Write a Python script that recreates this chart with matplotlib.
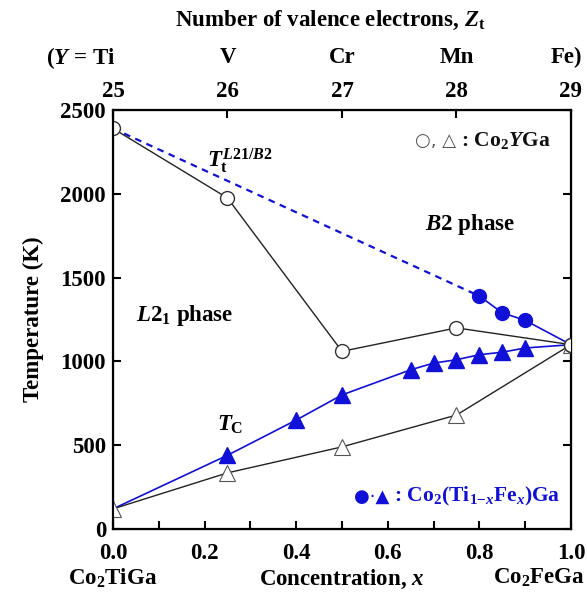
import matplotlib
matplotlib.use("Agg")
import matplotlib.pyplot as plt
import matplotlib.transforms as mtransforms
from matplotlib.offsetbox import TextArea, HPacker, AnchoredOffsetbox

plt.rcParams['font.family'] = ['Liberation Serif', 'DejaVu Serif']
plt.rcParams['font.weight'] = 'bold'
plt.rcParams['mathtext.fontset'] = 'custom'
plt.rcParams['mathtext.rm'] = 'Liberation Serif:bold'
plt.rcParams['mathtext.it'] = 'Liberation Serif:bold:italic'
plt.rcParams['mathtext.bf'] = 'Liberation Serif:bold'
plt.rcParams['mathtext.fallback'] = 'stix'

BLUE = "#1010d8"

# Co2YGa (Y = Ti, V, Cr, Mn, Fe)
x_y = [0.0, 0.25, 0.5, 0.75, 1.0]
tt_y = [2390, 1975, 1060, 1200, 1100]     # L21/B2 transition
tc_y = [120, 335, 490, 680, 1100]         # Curie temperature

# Co2(Ti1-xFex)Ga
x_tt_fe = [0.8, 0.85, 0.9, 1.0]
tt_fe = [1390, 1290, 1245, 1100]
x_tc_fe = [0.0, 0.25, 0.4, 0.5, 0.65, 0.7, 0.75, 0.8, 0.85, 0.9, 1.0]
tc_fe = [120, 440, 650, 800, 950, 990, 1010, 1040, 1055, 1080, 1100]

top_pos = [0.0, 0.25, 0.5, 0.75, 1.0]
top_nums = ["25", "26", "27", "28", "29"]
top_elems = ["($\\mathit{Y}$ = Ti", "V", "Cr", "Mn", "Fe)"]

fig = plt.figure(figsize=(5.87, 5.97), dpi=100)
ax = fig.add_axes([0.1925, 0.1139, 0.7802, 0.7018])

# dashed extrapolation of T_t from Co2TiGa to the x=0.8 point
ax.plot([x_y[0], x_tt_fe[0]], [tt_y[0], tt_fe[0]], color=BLUE, lw=1.6,
        ls=(0, (3, 2.5)), zorder=2)
ax.plot(x_tt_fe, tt_fe, color=BLUE, lw=1.2, zorder=2)
ax.plot(x_tt_fe[:-1], tt_fe[:-1], 'o', color=BLUE, ms=10, zorder=4)
ax.plot(x_tc_fe, tc_fe, color=BLUE, lw=1.2, zorder=2)
ax.plot(x_tc_fe[1:-1], tc_fe[1:-1], '^', color=BLUE, ms=11, zorder=4)

ax.plot(x_y, tt_y, color='#222222', lw=1.0, marker='o', ms=10,
        mfc='white', mec='#333333', mew=1.0, zorder=5)
ax.plot(x_y, tc_y, color='#222222', lw=1.0, marker='^', ms=11,
        mfc='white', mec='#555555', mew=0.8, zorder=3)
ax.plot([x_y[-1]], [tt_y[-1]], 'o', ms=10, mfc='white', mec='#333333',
        mew=1.0, zorder=6)

ax.set_xlim(0, 1)
ax.set_ylim(0, 2500)
ax.set_xticks([0.0, 0.1, 0.2, 0.3, 0.4, 0.5, 0.6, 0.7, 0.8, 0.9, 1.0])
ax.set_xticklabels(["0.0", "", "0.2", "", "0.4", "", "0.6", "", "0.8", "", "1.0"])
ax.set_yticks([0, 500, 1000, 1500, 2000, 2500])
ax.tick_params(direction='in', length=6, width=1.5, labelsize=16.5,
               right=True, pad=5)
ax.tick_params(axis='x', pad=10)
for s in ax.spines.values():
    s.set_linewidth(1.6)

ax.set_ylabel("Temperature (K)", fontsize=16.5, fontweight='bold', labelpad=12)
ax.set_xlabel("Concentration, $\\mathit{x}$", fontsize=16.5, fontweight='bold',
              labelpad=3)

ax2 = ax.twiny()
ax2.set_xlim(0, 1)
ax2.set_xticks(top_pos)
ax2.set_xticklabels(top_nums)
ax2.tick_params(direction='in', length=6, width=1.5, labelsize=16.5, pad=6)

trans = mtransforms.blended_transform_factory(ax.transData, ax.transAxes)
for xp, el in zip(top_pos, top_elems):
    dx = -0.07 if xp == 0.0 else (-0.01 if xp == 1.0 else 0.0)
    ax.text(xp + dx, 1.125, el, transform=trans, ha='center', va='center',
            fontsize=16.5)
fig.text(0.563, 0.966, "Number of valence electrons, $\\mathit{Z}_{\\mathrm{t}}$",
         ha='center', va='center', fontsize=16.5)

fig.text(0.192, 0.032, "Co$_2$TiGa", ha='center', va='center', fontsize=16.5)
fig.text(0.997, 0.032, "Co$_2$FeGa", ha='right', va='center', fontsize=16.5)

ax.text(0.205, 2200, "$\\mathit{T}_{\\mathrm{t}}^{\\mathit{L}2\\mathrm{1}/\\mathit{B}2}$",
        fontsize=16.5, ha='left', va='center')
ax.text(0.78, 1815, "$\\mathit{B}$2 phase", fontsize=16.5, ha='center', va='center')
ax.text(0.157, 1275, "$\\mathit{L}$2$_1$ phase", fontsize=16.5, ha='center', va='center')
ax.text(0.255, 620, "$\\mathit{T}_{\\mathrm{C}}$", fontsize=16.5, ha='center', va='center')


def legend_text(parts, xy):
    box = HPacker(children=[TextArea(t, textprops=p) for t, p in parts],
                  align='baseline', pad=0, sep=0)
    anc = AnchoredOffsetbox(loc='center right', child=box, pad=0, borderpad=0,
                            frameon=False, bbox_to_anchor=xy,
                            bbox_transform=ax.transData)
    ax.add_artist(anc)


sym = dict(family='DejaVu Sans', fontsize=13, color='#555555', fontweight='normal')
txt = dict(fontsize=15.5, color='#111111', fontweight='bold')
legend_text([("○, △", sym), (" : Co$_2$$\\mathit{Y}$Ga", txt)], (0.955, 2320))

sym_b = dict(family='DejaVu Sans', fontsize=13, color=BLUE, fontweight='normal')
txt_b = dict(fontsize=15.5, color=BLUE, fontweight='bold')
legend_text([("●·▲", sym_b),
             (" : Co$_2$(Ti$_{1\\mathrm{-}\\mathit{x}}$Fe$_{\\mathit{x}}$)Ga", txt_b)],
            (0.978, 192))

fig.savefig("out.png", dpi=100)
